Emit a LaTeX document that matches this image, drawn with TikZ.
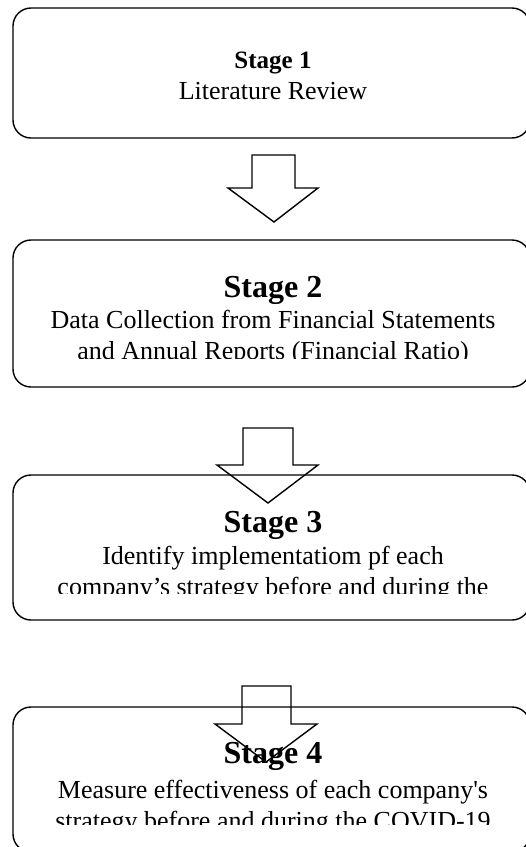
\documentclass[tikz,border=0pt]{standalone}
\usepackage{fontspec}
\setmainfont{Liberation Serif}
\begin{document}
\begin{tikzpicture}[x=1pt,y=-1pt,
  stagebox/.style={draw, line width=1.4pt, rounded corners=18pt, minimum width=517pt, inner sep=0pt},
  blockarrow/.style={draw, line width=1.4pt, line join=miter},
  headsmall/.style={font=\bfseries\fontsize{25}{30}\selectfont, anchor=base, inner sep=0pt},
  headbig/.style={font=\bfseries\fontsize{32}{38}\selectfont, anchor=base, inner sep=0pt},
  bodytext/.style={font=\fontsize{26}{31}\selectfont, anchor=base, inner sep=0pt}]
\clip (0,0) rectangle (526,847);
% boxes
\node[stagebox, minimum height=130pt] (b1) at (271.5,73) {};
\node[stagebox, minimum height=147pt] (b2) at (271.5,313.5) {};
\node[stagebox, minimum height=145pt] (b3) at (271.5,547.5) {};
\node[stagebox, minimum height=145pt] (b4) at (271.5,779.5) {};
% texts
\node[headsmall] (t1a) at (273,68) {Stage 1};
\node[bodytext] (t1b) at (273,99) {Literature Review};
\begin{scope}
  \clip (13,240) rectangle (530,358);
  \node[headbig] (t2a) at (273,297) {Stage 2};
  \node[bodytext] (t2b) at (273,328) {Data Collection from Financial Statements};
  \node[bodytext] (t2c) at (273,359) {and Annual Reports (Financial Ratio)};
\end{scope}
\begin{scope}
  \clip (13,475) rectangle (530,593);
  \node[headbig] (t3a) at (273,532) {Stage 3};
  \node[bodytext] (t3b) at (273,564) {Identify implementatiom pf each};
  \node[bodytext] (t3c) at (273,595) {company’s strategy before and during the};
\end{scope}
\begin{scope}
  \clip (13,707) rectangle (530,824);
  \node[headbig] (t4a) at (273,763) {Stage 4};
  \node[bodytext] (t4b) at (273,798) {Measure effectiveness of each company{\addfontfeatures{Ligatures=TeXOff}'}s};
  \node[bodytext] (t4c) at (273,829) {strategy before and during the COVID-19};
\end{scope}
% block arrows
\coordinate (a1) at (273.5,155);
\coordinate (a2) at (268,428);
\coordinate (a3) at (266.5,686);
\draw[blockarrow] (a1) ++(-21.5,0) -- ++(43,0) -- ++(0,33) -- ++(23,0) -- ++(-44,34) -- ++(-46,-34) -- ++(24,0) -- cycle;
\draw[blockarrow] (a2) ++(-25,0) -- ++(50,0) -- ++(0,37) -- ++(25,0) -- ++(-50,38) -- ++(-51,-38) -- ++(26,0) -- cycle;
\draw[blockarrow] (a3) ++(-24.5,0) -- ++(49,0) -- ++(0,38) -- ++(26,0) -- ++(-51,38) -- ++(-51,-38) -- ++(27,0) -- cycle;
\end{tikzpicture}
\end{document}
